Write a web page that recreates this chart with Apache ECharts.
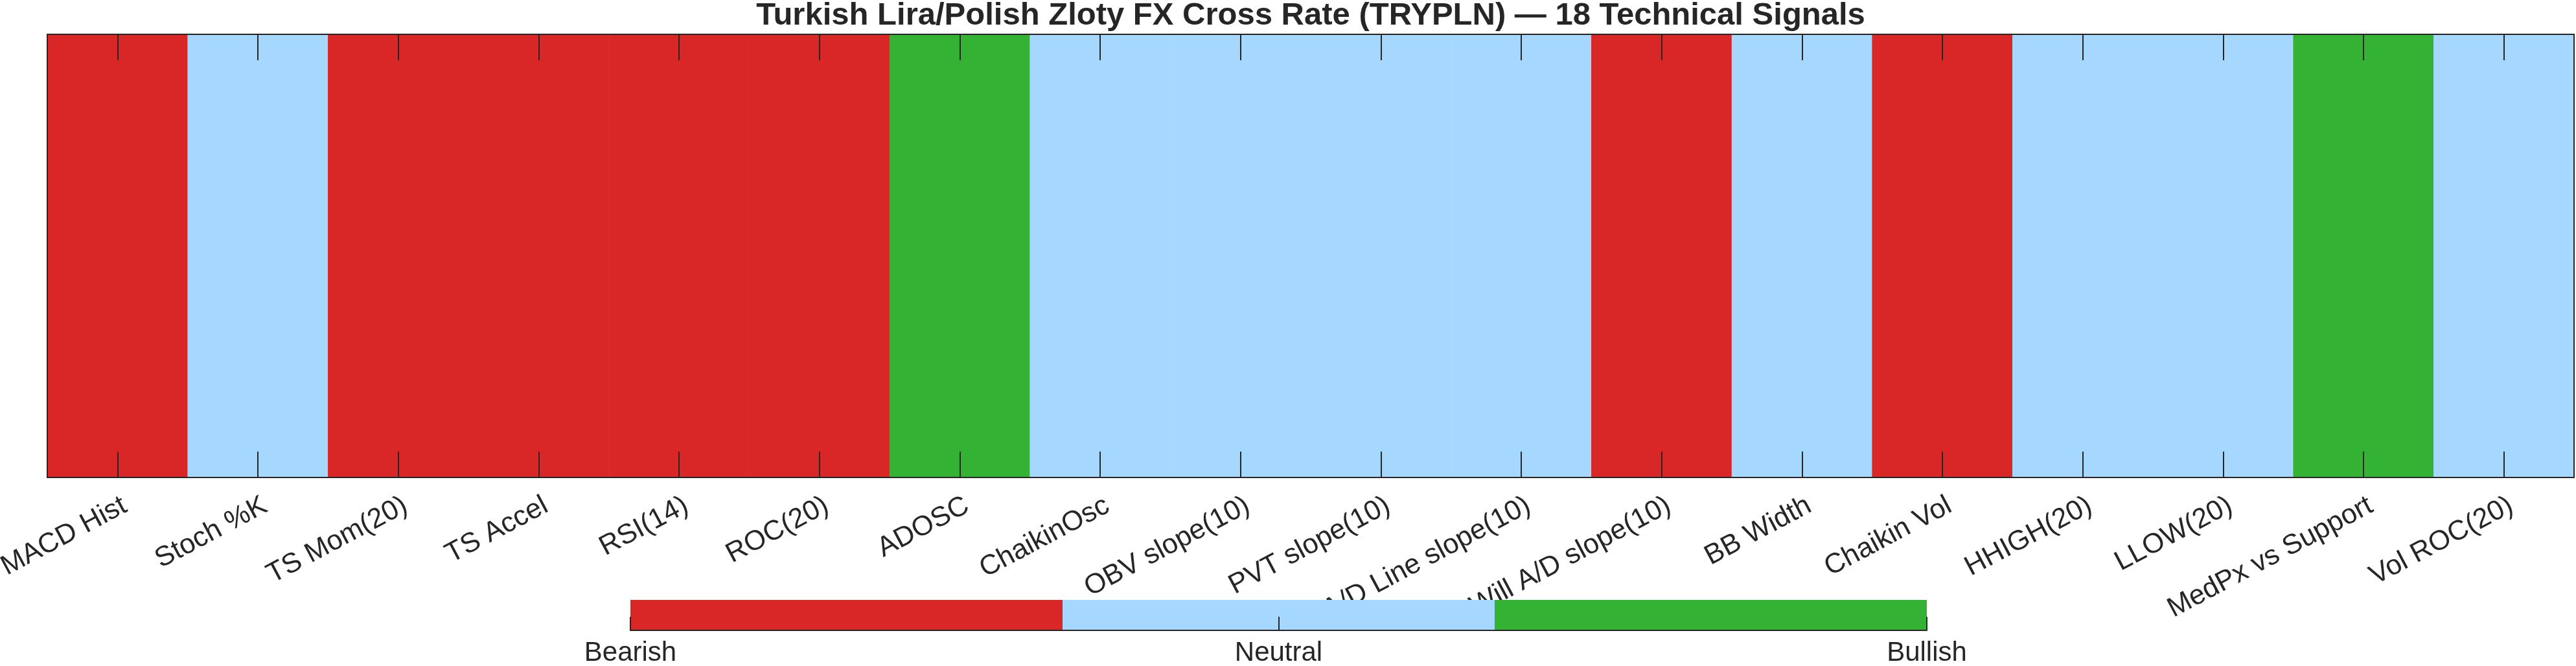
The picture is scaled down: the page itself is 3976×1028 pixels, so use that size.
<!DOCTYPE html>
<html>
<head>
<meta charset="utf-8">
<script src="https://cdn.jsdelivr.net/npm/echarts@6/dist/echarts.min.js"></script>
<style>
  html, body { margin: 0; padding: 0; background: #fff; }
  #chart { width: 3976px; height: 1028px; }
</style>
</head>
<body>
<div id="chart"></div>
<script>
// chart data
const titleText = 'Turkish Lira/Polish Zloty FX Cross Rate (TRYPLN) \u2014 18 Technical Signals'
const signalNames = [
  'MACD Hist', 'Stoch %K', 'TS Mom(20)', 'TS Accel', 'RSI(14)', 'ROC(20)',
  'ADOSC', 'ChaikinOsc', 'OBV slope(10)', 'PVT slope(10)', 'A/D Line slope(10)',
  'Will A/D slope(10)', 'BB Width', 'Chaikin Vol', 'HHIGH(20)', 'LLOW(20)',
  'MedPx vs Support', 'Vol ROC(20)'
]
// 1 = Bearish, 2 = Neutral, 3 = Bullish
const signalValues = [1, 2, 1, 1, 1, 1, 3, 2, 2, 2, 2, 1, 2, 1, 2, 2, 3, 2]
const levelNames = ['Bearish', 'Neutral', 'Bullish']
const levelColors = ['#D92626', '#A6D8FF', '#34B233']

const ink = '#262626'
const font = '"Liberation Sans", Arial, Helvetica, sans-serif'

const chartDom = echarts.init(document.getElementById('chart'))

// colour bar bins: limits 1..3 split into equal parts
const nLev = levelNames.length
const binW = (nLev - 1) / nLev
const colorbarData = levelNames.map((n, k) => [1 + k * binW, 1 + (k + 1) * binW, k])

chartDom.setOption({
  animation: false,
  textStyle: { fontFamily: font },
  title: {
    text: titleText,
    left: 2023,
    top: 0,
    padding: 0,
    textAlign: 'center',
    textStyle: { fontSize: 49, fontWeight: 'bold', color: ink, fontFamily: font }
  },
  visualMap: {
    type: 'piecewise',
    show: false,
    seriesIndex: 0,
    dimension: 2,
    pieces: levelNames.map((n, k) => ({ value: k + 1, color: levelColors[k] }))
  },
  grid: [
    { left: 73, top: 53, width: 3900, height: 684, containLabel: false, outerBoundsMode: 'none' },
    { left: 973, top: 926, width: 2001, height: 47, containLabel: false, outerBoundsMode: 'none' }
  ],
  xAxis: [
    {
      type: 'category',
      gridIndex: 0,
      data: signalNames,
      position: 'bottom',
      z: 50,
      axisLine: { lineStyle: { color: ink, width: 2 } },
      axisTick: { show: true, inside: true, length: 40, alignWithLabel: true, lineStyle: { color: ink, width: 2 } },
      axisLabel: {
        interval: 0, rotate: 28, margin: 47, fontSize: 43, color: ink, fontFamily: font,
        padding: [0, -13, 0, 0]
      }
    },
    {
      type: 'category',
      gridIndex: 0,
      data: signalNames,
      position: 'top',
      z: 50,
      axisLine: { lineStyle: { color: ink, width: 2 } },
      axisTick: { show: true, inside: true, length: 40, alignWithLabel: true, lineStyle: { color: ink, width: 2 } },
      axisLabel: { show: false }
    },
    {
      type: 'value',
      gridIndex: 1,
      min: 1,
      max: 3,
      interval: 1,
      z: 60,
      splitLine: { show: false },
      axisLine: { lineStyle: { color: ink, width: 2 } },
      axisTick: { inside: true, length: 21, lineStyle: { color: ink, width: 2 } },
      axisLabel: {
        showMinLabel: true,
        showMaxLabel: true,
        margin: 14,
        fontSize: 42,
        color: ink,
        fontFamily: font,
        formatter: v => levelNames[Math.round(v) - 1]
      }
    }
  ],
  yAxis: [
    {
      type: 'category',
      gridIndex: 0,
      data: [''],
      position: 'left',
      z: 50,
      axisLine: { lineStyle: { color: ink, width: 2 } },
      axisTick: { show: false },
      axisLabel: { show: false }
    },
    {
      type: 'category',
      gridIndex: 0,
      data: [''],
      position: 'right',
      z: 50,
      axisLine: { lineStyle: { color: ink, width: 2 } },
      axisTick: { show: false },
      axisLabel: { show: false }
    },
    {
      type: 'value',
      gridIndex: 1,
      min: 0,
      max: 1,
      show: false
    }
  ],
  series: [
    {
      type: 'heatmap',
      xAxisIndex: 0,
      yAxisIndex: 0,
      z: 1,
      data: signalValues.map((v, i) => [i, 0, v]),
      itemStyle: { borderWidth: 0 },
      emphasis: { disabled: true }
    },
    {
      type: 'custom',
      xAxisIndex: 2,
      yAxisIndex: 2,
      z: 55,
      data: colorbarData,
      encode: { x: [0, 1] },
      renderItem(params, api) {
        const p0 = api.coord([api.value(0), 1])
        const p1 = api.coord([api.value(1), 0])
        return {
          type: 'rect',
          shape: { x: p0[0], y: p0[1], width: p1[0] - p0[0], height: p1[1] - p0[1] },
          style: { fill: levelColors[api.value(2)] }
        }
      }
    }
  ]
})
</script>
</body>
</html>
